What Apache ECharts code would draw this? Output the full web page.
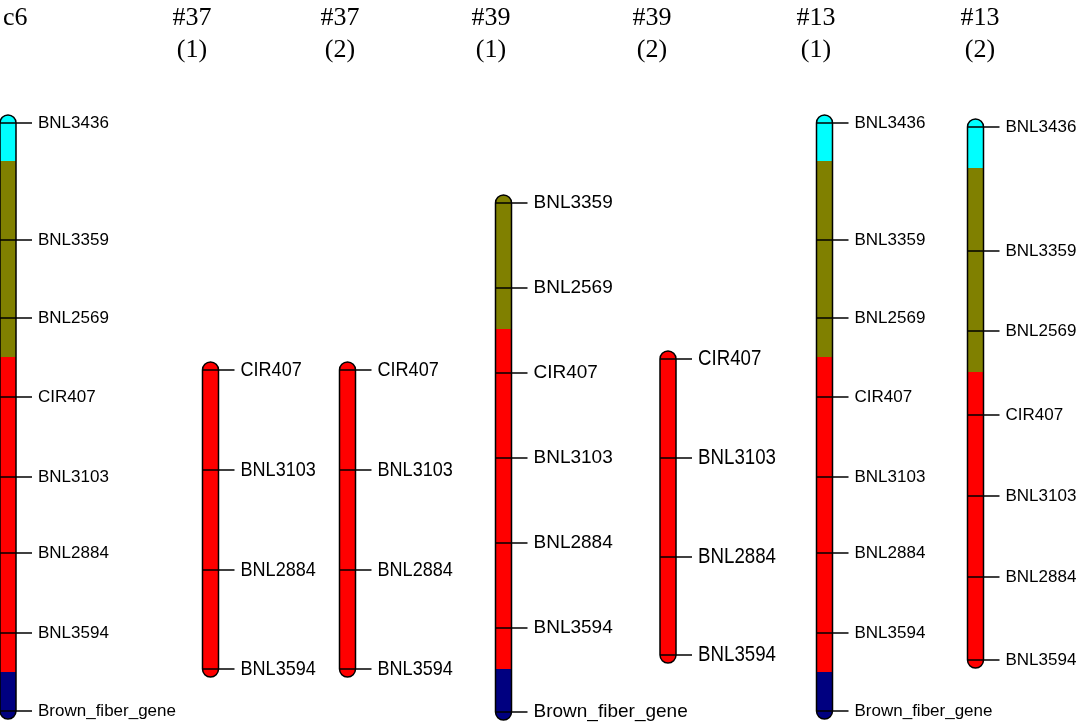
<!DOCTYPE html>
<html>
<head>
<meta charset="utf-8">
<script src="https://cdn.jsdelivr.net/npm/echarts@6/dist/echarts.min.js"></script>
<style>
  html, body { margin: 0; padding: 0; background: #fff; }
  #chart { width: 1080px; height: 725px; }
</style>
</head>
<body>
<div id="chart"></div>
<script>
// chromosome headers
const chromNames = ['c6', '#37', '#37', '#39', '#39', '#13', '#13'];
const chromSubs = ['', '(1)', '(2)', '(1)', '(2)', '(1)', '(2)'];

// markers per chromosome (top to bottom) and their map positions
const markerNames = [
  ['BNL3436', 'BNL3359', 'BNL2569', 'CIR407', 'BNL3103', 'BNL2884', 'BNL3594', 'Brown_fiber_gene'],
  ['CIR407', 'BNL3103', 'BNL2884', 'BNL3594'],
  ['CIR407', 'BNL3103', 'BNL2884', 'BNL3594'],
  ['BNL3359', 'BNL2569', 'CIR407', 'BNL3103', 'BNL2884', 'BNL3594', 'Brown_fiber_gene'],
  ['CIR407', 'BNL3103', 'BNL2884', 'BNL3594'],
  ['BNL3436', 'BNL3359', 'BNL2569', 'CIR407', 'BNL3103', 'BNL2884', 'BNL3594', 'Brown_fiber_gene'],
  ['BNL3436', 'BNL3359', 'BNL2569', 'CIR407', 'BNL3103', 'BNL2884', 'BNL3594']
];
const markerPos = [
  [0, 29.25, 48.75, 68.5, 88.5, 107.5, 127.5, 147],
  [61.75, 86.75, 111.75, 136.5],
  [61.75, 86.75, 111.75, 136.5],
  [20, 41.25, 62.5, 83.75, 105, 126.25, 147.25],
  [59, 83.75, 108.5, 133],
  [0, 29.25, 48.75, 68.5, 88.5, 107.5, 127.5, 147],
  [1, 32, 52, 73, 93.25, 113.5, 134.25]
];

// coloured regions: colours top to bottom and the positions where they change
const segmentColors = [
  ['#00ffff', '#808000', '#ff0000', '#000080'],
  ['#ff0000'],
  ['#ff0000'],
  ['#808000', '#ff0000', '#000080'],
  ['#ff0000'],
  ['#00ffff', '#808000', '#ff0000', '#000080'],
  ['#00ffff', '#808000', '#ff0000']
];
const segmentBreaks = [
  [9.5, 58.5, 137.25],
  [],
  [],
  [51.5, 136.5],
  [],
  [9.5, 58.5, 137.25],
  [11.25, 62.25]
];

// layout (not data)
const trackX = [8, 210.5, 347.5, 503.5, 668, 824.5, 975.5];
const headerX = [3, 192, 340, 491, 652, 816, 980];
const labelSize = [17, 21, 21, 19, 22, 17, 17];
const labelSquash = [1, 0.86, 0.86, 1, 0.85, 1, 1];
const labelFamily = '"Liberation Sans", Arial, sans-serif';
const headerFont = '26px "Liberation Serif", "Times New Roman", serif';

const BAR_W = 16;
const CAP = 8;

function renderChrom(params, api) {
  const i = params.dataIndex;
  const cx = api.coord([api.value(0), 0])[0];
  const py = v => api.coord([0, v])[1];
  const pos = markerPos[i];
  const hw = BAR_W / 2;
  const top = py(pos[0]);
  const bot = py(pos[pos.length - 1]);
  const edges = [pos[0], ...segmentBreaks[i], pos[pos.length - 1]];
  const colors = segmentColors[i];
  const children = [];

  colors.forEach((c, s) => {
    let y0 = py(edges[s]);
    let y1 = py(edges[s + 1]);
    const r = [0, 0, 0, 0];
    if (s === 0) { y0 -= CAP; r[0] = hw; r[1] = hw; }
    if (s === colors.length - 1) { y1 += CAP; r[2] = hw; r[3] = hw; }
    children.push({
      type: 'rect',
      shape: { x: cx - hw, y: y0, width: BAR_W, height: y1 - y0, r: r },
      style: { fill: c }
    });
  });

  // outline
  children.push({
    type: 'rect',
    shape: { x: cx - hw, y: top - CAP, width: BAR_W, height: bot - top + 2 * CAP, r: hw },
    style: { fill: 'none', stroke: '#000', lineWidth: 1.5 }
  });

  pos.forEach((v, k) => {
    const y = py(v);
    children.push({
      type: 'line',
      shape: { x1: cx - hw, y1: y, x2: cx + hw + 16, y2: y },
      style: { stroke: '#000', lineWidth: 1.5 }
    });
    children.push({
      type: 'text',
      x: cx + hw + 22,
      y: y,
      scaleX: labelSquash[i],
      style: {
        x: 0, y: 0,
        text: markerNames[i][k],
        font: labelSize[i] + 'px ' + labelFamily,
        fill: '#000',
        align: 'left', verticalAlign: 'middle',
        textAlign: 'left', textVerticalAlign: 'middle'
      }
    });
  });

  return { type: 'group', children: children };
}

const graphics = [];
chromNames.forEach((name, i) => {
  const alignH = i === 0 ? 'left' : 'center';
  graphics.push({
    type: 'text',
    style: {
      x: headerX[i], y: 18, text: name, font: headerFont, fill: '#000',
      align: alignH, verticalAlign: 'middle', textAlign: alignH, textVerticalAlign: 'middle'
    }
  });
  if (chromSubs[i]) {
    graphics.push({
      type: 'text',
      style: {
        x: headerX[i], y: 50, text: chromSubs[i], font: headerFont, fill: '#000',
        align: 'center', verticalAlign: 'middle', textAlign: 'center', textVerticalAlign: 'middle'
      }
    });
  }
});

const chart = echarts.init(document.getElementById('chart'));
chart.setOption({
  animation: false,
  backgroundColor: '#fff',
  grid: { left: 0, right: 0, top: 123, bottom: 14 },
  xAxis: { type: 'value', min: 0, max: 1080, show: false },
  yAxis: { type: 'value', min: 0, max: 147, inverse: true, show: false },
  graphic: graphics,
  series: [{
    type: 'custom',
    clip: false,
    renderItem: renderChrom,
    data: trackX.map(x => [x])
  }]
});
</script>
</body>
</html>
